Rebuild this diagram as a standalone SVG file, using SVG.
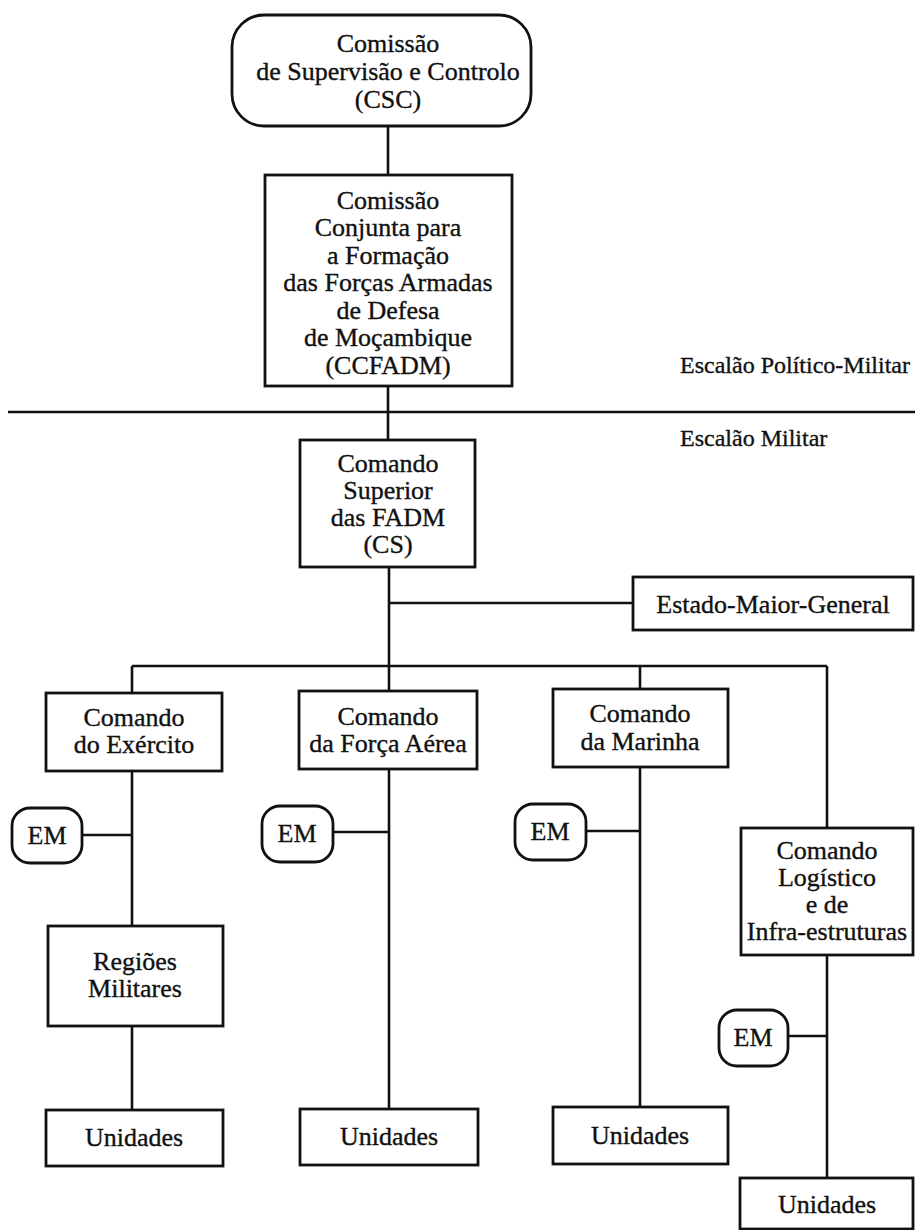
<svg xmlns="http://www.w3.org/2000/svg" width="915" height="1230" viewBox="0 0 915 1230">
<style>
.box{fill:#fff;stroke:#111;stroke-width:2.8}
.ln{fill:none;stroke:#111;stroke-width:2.6}
text{font-family:"Liberation Serif","Times New Roman",serif;font-size:26px;fill:#111;stroke:#111;stroke-width:0.35;text-anchor:middle}
.esc{font-size:24px;text-anchor:start}
</style>
<rect width="915" height="1230" fill="#fff"/>
<g id="connectors">
<path class="ln" d="M388 126V175M388 386V440M8 412H915M389 567V691M389 603H633M132 666H827M132 666V693M640 666V689M827 666V828M132 771V926M82 835H132M132 1026V1110M389 769V1109M333 832H389M640 767V1107M586 831H640M827 955V1178M788 1036H827"/>
</g>
<g id="csc"><rect class="box" x="232" y="15" width="299" height="111" rx="32"/>
<text x="388" y="52">Comissão</text><text x="388" y="80">de Supervisão e Controlo</text><text x="388" y="108">(CSC)</text></g>
<g id="ccfadm"><rect class="box" x="265" y="175" width="247" height="211"/>
<text x="388" y="209">Comissão</text><text x="388" y="236">Conjunta para</text><text x="388" y="264">a Formação</text><text x="388" y="291">das Forças Armadas</text><text x="388" y="319">de Defesa</text><text x="388" y="346">de Moçambique</text><text x="388" y="374">(CCFADM)</text></g>
<g id="escaloes"><text class="esc" x="680" y="373">Escalão Político-Militar</text><text class="esc" x="680" y="446">Escalão Militar</text></g>
<g id="cs"><rect class="box" x="300" y="440" width="175" height="127"/>
<text x="388" y="472">Comando</text><text x="388" y="499">Superior</text><text x="388" y="526">das FADM</text><text x="388" y="553">(CS)</text></g>
<g id="emg"><rect class="box" x="633" y="577" width="280" height="53"/><text x="773" y="613">Estado-Maior-General</text></g>
<g id="exercito"><rect class="box" x="46" y="693" width="176" height="78"/><text x="134" y="726">Comando</text><text x="134" y="753">do Exército</text></g>
<g id="forca"><rect class="box" x="299" y="691" width="178" height="78"/><text x="388" y="725">Comando</text><text x="388" y="752">da Força Aérea</text></g>
<g id="marinha"><rect class="box" x="553" y="689" width="175" height="78"/><text x="640" y="722">Comando</text><text x="640" y="750">da Marinha</text></g>
<g id="logistico"><rect class="box" x="741" y="828" width="172" height="127"/><text x="827" y="859">Comando</text><text x="827" y="886">Logístico</text><text x="827" y="913">e de</text><text x="827" y="940">Infra-estruturas</text></g>
<g id="em1"><rect class="box" x="12" y="808" width="70" height="55" rx="18"/><text x="47" y="844">EM</text></g>
<g id="em2"><rect class="box" x="262" y="806" width="71" height="56" rx="18"/><text x="297" y="842">EM</text></g>
<g id="em3"><rect class="box" x="515" y="804" width="71" height="56" rx="18"/><text x="550" y="840">EM</text></g>
<g id="em4"><rect class="box" x="719" y="1010" width="69" height="56" rx="18"/><text x="753" y="1046">EM</text></g>
<g id="regioes"><rect class="box" x="48" y="926" width="175" height="100"/><text x="135" y="970">Regiões</text><text x="135" y="997">Militares</text></g>
<g id="unid1"><rect class="box" x="46" y="1110" width="177" height="56"/><text x="134" y="1146">Unidades</text></g>
<g id="unid2"><rect class="box" x="300" y="1109" width="178" height="56"/><text x="389" y="1145">Unidades</text></g>
<g id="unid3"><rect class="box" x="553" y="1107" width="175" height="57"/><text x="640" y="1144">Unidades</text></g>
<g id="unid4"><rect class="box" x="740" y="1178" width="173" height="51"/><text x="827" y="1213">Unidades</text></g>
</svg>
